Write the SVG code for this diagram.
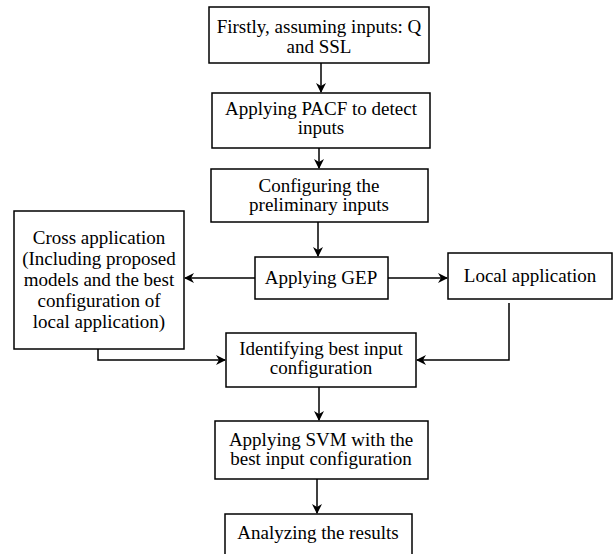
<svg xmlns="http://www.w3.org/2000/svg" width="613" height="554" viewBox="0 0 613 554">
<style>
.box{fill:#fff;stroke:#000;stroke-width:1.5}
.t{font-family:"Liberation Serif",serif;font-size:19px;fill:#000;text-anchor:middle}
.c{fill:none;stroke:#000;stroke-width:1.5}
</style>
<defs>
<marker id="ah" markerWidth="10" markerHeight="10" refX="9" refY="5" orient="auto" markerUnits="userSpaceOnUse">
<path d="M0,0 L10,5 L0,10 L3,5 Z" fill="#000"/>
</marker>
</defs>
<rect width="613" height="554" fill="#fff"/>
<g id="connectors">
<line class="c" x1="321" y1="63" x2="321" y2="92" marker-end="url(#ah)"/>
<line class="c" x1="319" y1="148" x2="319" y2="168" marker-end="url(#ah)"/>
<line class="c" x1="318" y1="222" x2="318" y2="256" marker-end="url(#ah)"/>
<line class="c" x1="255" y1="278" x2="185" y2="278" marker-end="url(#ah)"/>
<line class="c" x1="388" y1="278" x2="447" y2="278" marker-end="url(#ah)"/>
<polyline class="c" points="98,349 98,360 225,360" marker-end="url(#ah)"/>
<polyline class="c" points="509,303 509,360 417,360" marker-end="url(#ah)"/>
<line class="c" x1="319" y1="387" x2="319" y2="420" marker-end="url(#ah)"/>
<line class="c" x1="317" y1="479" x2="317" y2="513" marker-end="url(#ah)"/>
</g>
<g id="n1"><rect class="box" x="209" y="7" width="220" height="56"/>
<text class="t" x="319" y="33">Firstly,  assuming inputs: Q</text>
<text class="t" x="319" y="53">and SSL</text></g>
<g id="n2"><rect class="box" x="212" y="93" width="218" height="55"/>
<text class="t" x="321" y="115">Applying PACF to detect</text>
<text class="t" x="321" y="134">inputs</text></g>
<g id="n3"><rect class="box" x="211" y="169" width="217" height="53"/>
<text class="t" x="319" y="192">Configuring the</text>
<text class="t" x="319" y="211">preliminary inputs</text></g>
<g id="n4"><rect class="box" x="255" y="257" width="133" height="42"/>
<text class="t" x="321" y="284">Applying GEP</text></g>
<g id="n5"><rect class="box" x="14" y="211" width="170" height="138"/>
<text class="t" x="99" y="244">Cross application</text>
<text class="t" x="99" y="265">(Including proposed</text>
<text class="t" x="99" y="286">models and the best</text>
<text class="t" x="99" y="307">configuration of</text>
<text class="t" x="99" y="328">local application)</text></g>
<g id="n6"><rect class="box" x="448" y="253" width="164" height="46"/>
<text class="t" x="530" y="282">Local application</text></g>
<g id="n7"><rect class="box" x="226" y="333" width="190" height="54"/>
<text class="t" x="321" y="355">Identifying best input</text>
<text class="t" x="321" y="374">configuration</text></g>
<g id="n8"><rect class="box" x="215" y="421" width="213" height="58"/>
<text class="t" x="321" y="446">Applying SVM with the</text>
<text class="t" x="321" y="465">best input configuration</text></g>
<g id="n9"><rect class="box" x="225" y="514" width="187" height="45"/>
<text class="t" x="318" y="539">Analyzing the results</text></g>
</svg>
